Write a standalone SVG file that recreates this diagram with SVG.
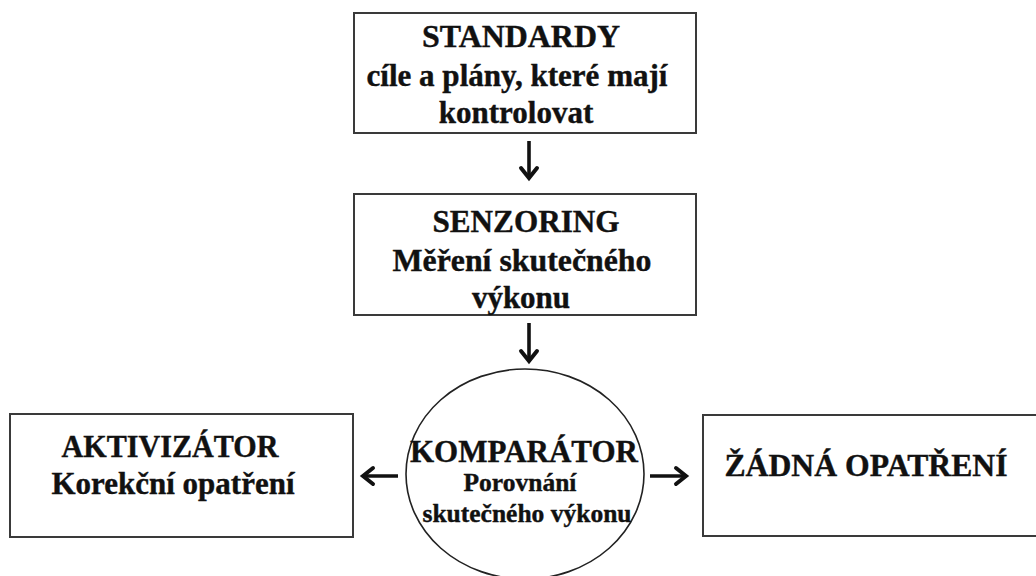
<svg xmlns="http://www.w3.org/2000/svg" width="1036" height="576" viewBox="0 0 1036 576">
<style>
.box{fill:#fff;stroke:#3a3a3a;stroke-width:2}
.circ{fill:#fff;stroke:#222;stroke-width:1.6}
.t{font-family:"Liberation Serif","Times New Roman",serif;font-weight:bold;fill:#111;stroke:#111;stroke-width:0.4;text-anchor:middle}
.h{font-size:31px}
.m{font-size:25.5px}
.c{stroke:#111;stroke-width:3.6;fill:none}
.ah{stroke:#111;stroke-width:4;fill:none;stroke-linecap:round;stroke-linejoin:miter}
</style>
<rect width="1036" height="576" fill="#fff"/>
<g id="standardy">
<rect class="box" x="354" y="13" width="342" height="120"/>
<text class="t h" x="521" y="47" textLength="198" lengthAdjust="spacingAndGlyphs">STANDARDY</text>
<text class="t h" x="517" y="86" textLength="301" lengthAdjust="spacingAndGlyphs">cíle a plány, které mají</text>
<text class="t h" x="516" y="123">kontrolovat</text>
</g>
<g id="senzoring">
<rect class="box" x="354" y="194" width="342" height="121"/>
<text class="t h" x="526" y="232" textLength="187" lengthAdjust="spacingAndGlyphs">SENZORING</text>
<text class="t h" x="522" y="271" textLength="259" lengthAdjust="spacingAndGlyphs">Měření skutečného</text>
<text class="t h" x="521" y="308">výkonu</text>
</g>
<g id="komparator">
<ellipse class="circ" cx="525" cy="474" rx="119" ry="105"/>
<text class="t h" x="524" y="462" textLength="228" lengthAdjust="spacingAndGlyphs">KOMPARÁTOR</text>
<text class="t m" x="520" y="491">Porovnání</text>
<text class="t m" x="527" y="522" textLength="209" lengthAdjust="spacingAndGlyphs">skutečného výkonu</text>
</g>
<g id="aktivizator">
<rect class="box" x="10" y="414" width="343" height="123"/>
<text class="t h" x="170" y="457" textLength="217" lengthAdjust="spacingAndGlyphs">AKTIVIZÁTOR</text>
<text class="t h" x="173" y="494" textLength="243" lengthAdjust="spacingAndGlyphs">Korekční opatření</text>
</g>
<g id="zadna">
<rect class="box" x="703" y="415" width="340" height="121"/>
<text class="t h" x="866" y="476" textLength="283" lengthAdjust="spacingAndGlyphs">ŽÁDNÁ OPATŘENÍ</text>
</g>
<g id="connectors">
<line class="c" x1="529" y1="141" x2="529" y2="176"/>
<polyline class="ah" points="521,168 529,178 537,168"/>
<line class="c" x1="529" y1="323" x2="529" y2="359"/>
<polyline class="ah" points="521,351 529,361 537,351"/>
<line class="c" x1="398" y1="476" x2="365" y2="476"/>
<polyline class="ah" points="373,468 363,476 373,484"/>
<line class="c" x1="650" y1="476" x2="684" y2="476"/>
<polyline class="ah" points="676,468 686,476 676,484"/>
</g>
</svg>
